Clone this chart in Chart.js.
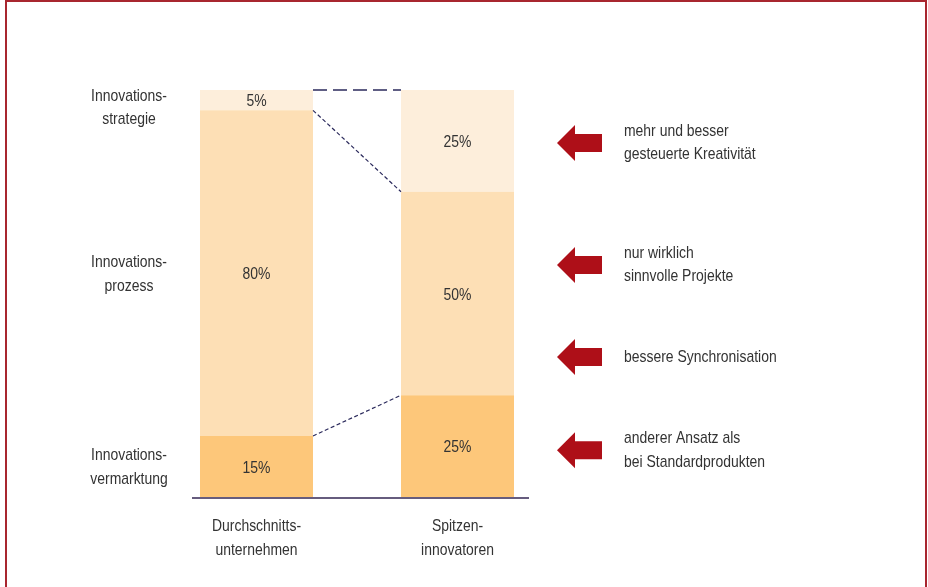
<!DOCTYPE html>
<html>
<head>
    <title>Innovationsaufwand</title>
    <script src="https://cdn.jsdelivr.net/npm/chart.js"></script>
    <style>
        html, body {
            margin: 0;
            padding: 0;
            background: #fff;
        }
        .frame {
            position: absolute;
            left: 5px;
            top: 0;
            width: 918px;
            height: 600px;
            border: 2px solid #a8262f;
            border-bottom: none;
        }
        .wrap {
            position: absolute;
            left: 0;
            top: 0;
            width: 928px;
            height: 587px;
        }
    </style>
</head>
<body>
    <div class="frame"></div>
    <div class="wrap">
        <canvas id="chart" width="928" height="587"></canvas>
    </div>

    <script>
        const FONT = "'Liberation Sans', Arial, sans-serif";
        const SQUEEZE = 0.82; // narrow look of the original lettering

        // Data
        const categories = [['Durchschnitts-', 'unternehmen'], ['Spitzen-', 'innovatoren']];
        const vermarktung = [15, 25];
        const prozess = [80, 50];
        const strategie = [5, 25];
        const rowLabels = [
            ['Innovations-', 'vermarktung'],
            ['Innovations-', 'prozess'],
            ['Innovations-', 'strategie']
        ];
        const notes = [
            ['mehr und besser', 'gesteuerte Kreativität'],
            ['nur wirklich', 'sinnvolle Projekte'],
            ['bessere Synchronisation'],
            ['anderer Ansatz als', 'bei Standardprodukten']
        ];
        const noteAt = [87, 57, 34.4, 11.5];

        const segColors = ['#fdc77a', '#fddfb5', '#fdeedb'];

        function text(ctx, t, x, y) {
            ctx.save();
            ctx.translate(x, y);
            ctx.scale(SQUEEZE, 1);
            ctx.fillText(t, 0, 0);
            ctx.restore();
        }

        function block(ctx, lines, x, cy, lh) {
            lines.forEach((t, k) => text(ctx, t, x, cy + (k - (lines.length - 1) / 2) * lh));
        }

        const extras = {
            id: 'extras',
            afterDatasetsDraw(chart) {
                const ctx = chart.ctx;
                const area = chart.chartArea;
                const y = chart.scales.y;
                const x = chart.scales.x;
                const metas = [0, 1, 2].map(i => chart.getDatasetMeta(i));
                const lh = 23.5;
                ctx.save();

                // baseline
                const b0 = metas[0].data[0], b1 = metas[0].data[1];
                ctx.strokeStyle = '#665c7e';
                ctx.lineWidth = 2;
                ctx.beginPath();
                ctx.moveTo(b0.x - b0.width / 2 - 8, area.bottom + 1);
                ctx.lineTo(b1.x + b1.width / 2 + 15, area.bottom + 1);
                ctx.stroke();

                // connectors between the bars
                ctx.strokeStyle = '#2b2a5c';
                metas.forEach((m, i) => {
                    const a = m.data[0], c = m.data[1];
                    ctx.beginPath();
                    if (i === 2) {
                        ctx.setLineDash([14, 6]);
                        ctx.lineWidth = 1.5;
                    } else {
                        ctx.setLineDash([4, 2.5]);
                        ctx.lineWidth = 1.2;
                    }
                    ctx.moveTo(a.x + a.width / 2, a.y);
                    ctx.lineTo(c.x - c.width / 2, c.y);
                    ctx.stroke();
                });
                ctx.setLineDash([]);

                ctx.fillStyle = '#333';
                ctx.font = '17px ' + FONT;
                ctx.textAlign = 'center';
                ctx.textBaseline = 'middle';

                // values inside segments
                metas.forEach((m, i) => {
                    m.data.forEach((el, j) => {
                        const v = chart.data.datasets[i].data[j];
                        text(ctx, v + '%', el.x, (el.y + el.base) / 2 + 1.5);
                    });
                });

                // category labels under the bars
                categories.forEach((lines, j) => {
                    block(ctx, lines, x.getPixelForValue(j), area.bottom + 41, 24);
                });

                // row labels on the left
                metas.forEach((m, i) => {
                    const el = m.data[0];
                    const lines = rowLabels[i];
                    let cy = (el.y + el.base) / 2 + 1;
                    cy = Math.max(cy, area.top + 6 + (lines.length - 1) * lh / 2);
                    block(ctx, lines, area.left - 27, cy, lh);
                });

                // arrows and notes on the right
                ctx.textAlign = 'left';
                notes.forEach((lines, i) => {
                    const cy = y.getPixelForValue(noteAt[i]);
                    const x0 = area.right - 1;
                    ctx.fillStyle = '#ae0f18';
                    ctx.beginPath();
                    ctx.moveTo(x0, cy);
                    ctx.lineTo(x0 + 18, cy - 18);
                    ctx.lineTo(x0 + 18, cy - 9);
                    ctx.lineTo(x0 + 45, cy - 9);
                    ctx.lineTo(x0 + 45, cy + 9);
                    ctx.lineTo(x0 + 18, cy + 9);
                    ctx.lineTo(x0 + 18, cy + 18);
                    ctx.closePath();
                    ctx.fill();

                    ctx.fillStyle = '#333';
                    block(ctx, lines, x0 + 67, cy, lh);
                });
                ctx.restore();
            }
        };

        new Chart(document.getElementById('chart'), {
            type: 'bar',
            data: {
                labels: categories,
                datasets: [
                    { label: 'Innovationsvermarktung', data: vermarktung, backgroundColor: segColors[0] },
                    { label: 'Innovationsprozess', data: prozess, backgroundColor: segColors[1] },
                    { label: 'Innovationsstrategie', data: strategie, backgroundColor: segColors[2] }
                ]
            },
            options: {
                responsive: false,
                animation: false,
                barPercentage: 0.5622,
                categoryPercentage: 1,
                layout: {
                    padding: { left: 156, right: 370, top: 90, bottom: 0 }
                },
                plugins: {
                    legend: { display: false },
                    tooltip: { enabled: false }
                },
                scales: {
                    x: {
                        stacked: true,
                        grid: { display: false, drawTicks: false },
                        border: { display: false },
                        ticks: { display: false },
                        afterFit: s => { s.height = 90; }
                    },
                    y: {
                        stacked: true,
                        display: false,
                        min: 0,
                        max: 100
                    }
                }
            },
            plugins: [extras]
        });
    </script>
</body>
</html>
